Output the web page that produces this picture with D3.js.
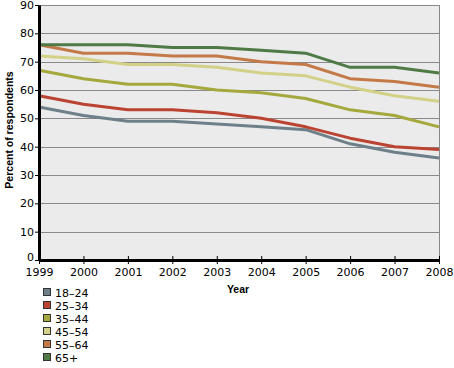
<!DOCTYPE html>
<meta charset="utf-8">
<script src="https://d3js.org/d3.v7.js"></script>
<style>
  body { margin: 0; background: #fff; }
</style>
<svg id="chart" width="454" height="368"></svg>
<script>

// data
const years = [1999, 2000, 2001, 2002, 2003, 2004, 2005, 2006, 2007, 2008]
const groups = ["18–24", "25–34", "35–44", "45–54", "55–64", "65+"]
const colors = ["#6d8089", "#bb4331", "#a5a83c", "#d3d088", "#c47a48", "#4f7a46"]
const v18_24 = [54, 51, 49, 49, 48, 47, 46, 41, 38, 36]
const v25_34 = [58, 55, 53, 53, 52, 50, 47, 43, 40, 39]
const v35_44 = [67, 64, 62, 62, 60, 59, 57, 53, 51, 47]
const v45_54 = [72, 71, 69, 69, 68, 66, 65, 61, 58, 56]
const v55_64 = [76, 73, 73, 72, 72, 70, 69, 64, 63, 61]
const v65 = [76, 76, 76, 75, 75, 74, 73, 68, 68, 66]
const yTicks = [0, 10, 20, 30, 40, 50, 60, 70, 80, 90]

const series = [v18_24, v25_34, v35_44, v45_54, v55_64, v65]

const svg = d3.select("#chart")
const mLeft = 39, mRight = 439, mTop = 5, mBottom = 260
const tickFont = "'DejaVu Sans', sans-serif"
const titleFont = "'Liberation Sans', Arial, sans-serif"

const x = d3.scaleLinear().domain([1999, 2008]).range([mLeft, mRight])
const y = d3.scaleLinear().domain([0, 90]).range([mBottom, mTop])

// plot background
svg.append("rect")
  .attr("x", mLeft).attr("y", mTop + 0.5)
  .attr("width", mRight - mLeft + 0.5).attr("height", mBottom - mTop)
  .attr("fill", "#ebebeb")
  .attr("stroke", "#888").attr("stroke-width", 1)

// gridlines
svg.append("g")
  .selectAll("line")
  .data(yTicks.slice(1, -1))
  .join("line")
    .attr("x1", mLeft).attr("x2", mRight)
    .attr("y1", d => Math.round(y(d)) + 0.5)
    .attr("y2", d => Math.round(y(d)) + 0.5)
    .attr("stroke", "#8a8a8a")

// lines
const line = d3.line()
  .x((d, i) => x(years[i]))
  .y(d => y(d))

svg.append("g")
  .selectAll("path")
  .data(series)
  .join("path")
    .attr("d", d => line(d))
    .attr("fill", "none")
    .attr("stroke", (d, i) => colors[i])
    .attr("stroke-width", 3)
    .attr("stroke-linejoin", "round")

// y axis
const yAxis = svg.append("g")
  .attr("transform", `translate(${mLeft},0)`)
  .call(d3.axisLeft(y).tickValues(yTicks).tickSize(4).tickSizeOuter(0))
yAxis.select(".domain").attr("stroke-width", 3)
yAxis.selectAll("text")
  .attr("fill", "#000").attr("x", -5)
  .attr("y", d => d === 0 ? -3 : 0)
  .style("font-size", "11px")
  .style("font-family", tickFont)

// x axis
const xAxis = svg.append("g")
  .attr("transform", `translate(0,${mBottom})`)
  .call(d3.axisBottom(x).tickValues(years).tickFormat(d3.format("d")).tickSize(4).tickSizeOuter(0))
xAxis.select(".domain").attr("stroke-width", 3)
xAxis.selectAll(".tick line").attr("y1", -4)
xAxis.selectAll("text")
  .attr("fill", "#000").attr("y", 8)
  .style("font-size", "11px")
  .style("font-family", tickFont)

// axis titles
svg.append("text")
  .attr("x", 238).attr("y", 293)
  .attr("text-anchor", "middle")
  .style("font-family", titleFont)
  .style("font-size", "10.5px").style("font-weight", "bold")
  .text("Year")

svg.append("text")
  .attr("transform", "translate(13,130) rotate(-90)")
  .attr("text-anchor", "middle")
  .style("font-family", titleFont)
  .style("font-size", "10.5px").style("font-weight", "bold")
  .text("Percent of respondents")

// legend
const legend = svg.append("g")
  .selectAll("g")
  .data(groups)
  .join("g")
    .attr("transform", (d, i) => `translate(43,${288 + i * 13})`)

legend.append("rect")
  .attr("x", 0.5).attr("y", 0.5)
  .attr("width", 7).attr("height", 7)
  .attr("fill", (d, i) => colors[i])
  .attr("stroke", "#333")

legend.append("text")
  .attr("x", 12).attr("y", 8.5)
  .style("font-size", "11px")
  .style("font-family", tickFont)
  .text(d => d)

</script>
